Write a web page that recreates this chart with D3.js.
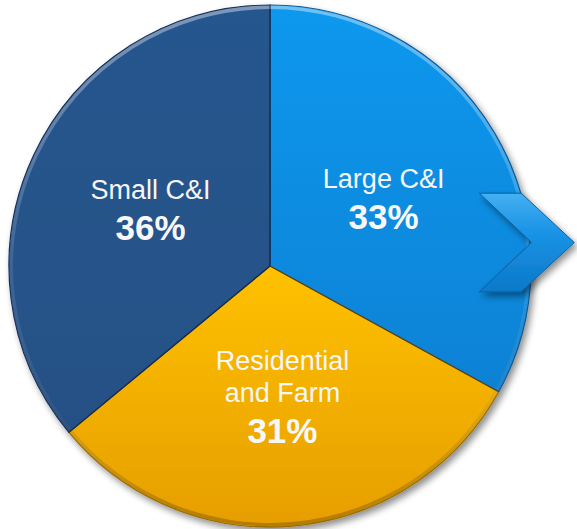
<!DOCTYPE html>
<html>
<head>
<meta charset="utf-8">
<script src="https://cdn.jsdelivr.net/npm/d3@7/dist/d3.min.js"></script>
<style>
  html, body { margin: 0; padding: 0; background: #ffffff; }
  svg { display: block; }
</style>
</head>
<body>
<svg id="chart" width="577" height="529"></svg>
<script>
// ---- data ----
const categories = ["Large C&I", "Residential\nand Farm", "Small C&I"];
const values = [33, 31, 36];
const valueLabels = ["33%", "31%", "36%"];
const sliceTop = ["#0c98ee", "#ffc105", "#28568e"];
const sliceBottom = ["#0a7acc", "#e69e00", "#244f84"];
const sliceEdge = ["#0a5a9a", "#9a6a00", "#14305a"];

const W = 577, H = 529;
const cx = 270, cy = 266, R = 261;

const svg = d3.select("#chart");
const defs = svg.append("defs");

// drop shadow
const sh = defs.append("filter").attr("id", "shadow")
  .attr("x", "-10%").attr("y", "-10%").attr("width", "130%").attr("height", "130%");
sh.append("feGaussianBlur").attr("in", "SourceAlpha").attr("stdDeviation", 3.5).attr("result", "b");
sh.append("feOffset").attr("in", "b").attr("dx", 3).attr("dy", 4).attr("result", "o");
sh.append("feComponentTransfer").attr("in", "o").attr("result", "s")
  .append("feFuncA").attr("type", "linear").attr("slope", 0.45);
const m = sh.append("feMerge");
m.append("feMergeNode").attr("in", "s");
m.append("feMergeNode").attr("in", "SourceGraphic");

// gradients per slice
values.forEach((v, i) => {
  const g = defs.append("linearGradient").attr("id", "g" + i)
    .attr("gradientUnits", "userSpaceOnUse")
    .attr("x1", 0).attr("y1", -R).attr("x2", 0).attr("y2", R);
  g.append("stop").attr("offset", "0%").attr("stop-color", sliceTop[i]);
  g.append("stop").attr("offset", "100%").attr("stop-color", sliceBottom[i]);
});
// residential: lighter near center
defs.select("#g1").attr("y1", 0).attr("y2", R);

// bevel highlight gradient for the rim
const rim = defs.append("linearGradient").attr("id", "rim")
  .attr("gradientUnits", "userSpaceOnUse")
  .attr("x1", 0).attr("y1", -R).attr("x2", 0).attr("y2", R);
rim.append("stop").attr("offset", "0%").attr("stop-color", "#ffffff").attr("stop-opacity", 0.4);
rim.append("stop").attr("offset", "50%").attr("stop-color", "#ffffff").attr("stop-opacity", 0.1);
rim.append("stop").attr("offset", "100%").attr("stop-color", "#000000").attr("stop-opacity", 0.22);

const g = svg.append("g").attr("transform", `translate(${cx},${cy})`);

const pie = d3.pie().value(d => d).sort(null).startAngle(0).endAngle(2 * Math.PI);
const arcs = pie(values);
const arc = d3.arc().innerRadius(0).outerRadius(R);

const pieG = g.append("g").attr("filter", "url(#shadow)");
pieG.selectAll("path.slice").data(arcs).join("path")
  .attr("class", "slice")
  .attr("d", arc)
  .attr("fill", (d, i) => `url(#g${i})`)
  .attr("stroke", (d, i) => sliceEdge[i])
  .attr("stroke-width", 1.2)
  .attr("stroke-linejoin", "round");

// rim bevel
const rimArc = d3.arc().innerRadius(R - 4).outerRadius(R - 0.5);
g.selectAll("path.rim").data(arcs).join("path")
  .attr("class", "rim")
  .attr("d", rimArc)
  .attr("fill", "url(#rim)");

// separators (dark thin edges between slices)
g.selectAll("line.sep").data(arcs).join("line")
  .attr("class", "sep")
  .attr("x1", 0).attr("y1", 0)
  .attr("x2", d => R * Math.sin(d.startAngle))
  .attr("y2", d => -R * Math.cos(d.startAngle))
  .attr("stroke", "#1b2a40").attr("stroke-opacity", 0.6).attr("stroke-width", 1.3);

// chevron arrow (relative to pie geometry)
const chev = [
  [R * 0.802, -R * 0.279], [R * 0.962, -R * 0.279], [R * 1.166, -R * 0.090],
  [R * 0.962, R * 0.099], [R * 0.802, R * 0.099], [R * 1.002, -R * 0.090]
];
const cg = defs.append("linearGradient").attr("id", "chev")
  .attr("x1", 0).attr("y1", 0).attr("x2", 0).attr("y2", 1);
cg.append("stop").attr("offset", "0%").attr("stop-color", "#45b0f2");
cg.append("stop").attr("offset", "40%").attr("stop-color", "#1a93e6");
cg.append("stop").attr("offset", "100%").attr("stop-color", "#0b78c8");
g.append("path")
  .attr("d", d3.line()(chev) + "Z")
  .attr("fill", "url(#chev)")
  .attr("stroke", "#0a5f9e").attr("stroke-width", 1)
  .attr("stroke-linejoin", "miter")
  .attr("filter", "url(#shadow)");

// labels
const labels = g.selectAll("g.label").data(arcs).join("g").attr("class", "label")
  .attr("transform", d => {
    const a = (d.startAngle + d.endAngle) / 2;
    return `translate(${132 * Math.sin(a)},${-132 * Math.cos(a)})`;
  });
labels.each(function(d, i) {
  const lines = categories[i].split("\n");
  const n = lines.length;
  const total = 19 + 32 * (n - 1) + 41;
  const top = -total / 2;
  const sel = d3.select(this);
  lines.forEach((ln, k) => {
    sel.append("text")
      .attr("x", 0).attr("y", top + 19 + 32 * k)
      .attr("text-anchor", "middle")
      .attr("font-family", "Liberation Sans, Arial, sans-serif")
      .attr("font-size", 27)
      .attr("fill", "#f6f6f6")
      .text(ln);
  });
  sel.append("text")
    .attr("x", 0).attr("y", top + total)
    .attr("text-anchor", "middle")
    .attr("font-family", "Liberation Sans, Arial, sans-serif")
    .attr("font-weight", "bold")
    .attr("font-size", 35)
    .attr("fill", "#f8f8f8")
    .text(valueLabels[i]);
});
</script>
</body>
</html>
